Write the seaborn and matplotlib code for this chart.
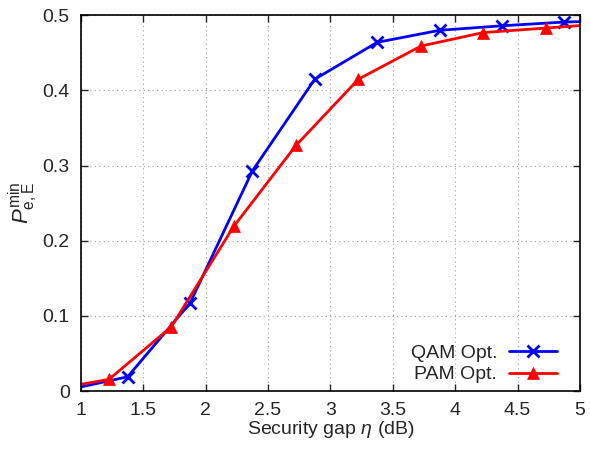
import numpy as np
import pandas as pd
import matplotlib
matplotlib.use("Agg")
import matplotlib.pyplot as plt
import seaborn as sns

sns.set_style("ticks")
plt.rcParams['font.family'] = ['Liberation Sans', 'DejaVu Sans']
plt.rcParams['mathtext.fontset'] = 'custom'
plt.rcParams['mathtext.rm'] = 'Liberation Sans'
plt.rcParams['mathtext.it'] = 'Liberation Sans:italic'

# datos (los extremos quedan fuera del eje y se recortan)
eta_qam = [0.875, 1.375, 1.875, 2.375, 2.875, 3.375, 3.875, 4.375, 4.875, 5.375]
pe_qam = [0.001, 0.019, 0.117, 0.293, 0.415, 0.464, 0.480, 0.486, 0.491, 0.493]

eta_pam = [0.725, 1.225, 1.725, 2.225, 2.725, 3.225, 3.725, 4.225, 4.725, 5.225]
pe_pam = [0.001, 0.0155, 0.0855, 0.219, 0.327, 0.415, 0.459, 0.477, 0.483, 0.489]

df_qam = pd.DataFrame({"eta": eta_qam, "pe": pe_qam})
df_pam = pd.DataFrame({"eta": eta_pam, "pe": pe_pam})

fig, ax = plt.subplots(figsize=(5.9, 4.49), dpi=100)
fig.subplots_adjust(left=0.137, right=0.983, top=0.966, bottom=0.129)

azul, rojo = "#0000ff", "#ff0000"
sns.lineplot(data=df_qam, x="eta", y="pe", ax=ax, color=azul, lw=2,
             marker="x", markersize=8, markeredgewidth=2,
             markeredgecolor=azul, label="QAM Opt.")
sns.lineplot(data=df_pam, x="eta", y="pe", ax=ax, color=rojo, lw=2,
             marker="^", markersize=9, markeredgewidth=0.5,
             markeredgecolor=rojo, label="PAM Opt.")

ax.set_xlim(1, 5)
ax.set_ylim(0, 0.5)
ax.set_xticks(np.arange(1, 5.01, 0.5))
ax.set_xticklabels(["1", "1.5", "2", "2.5", "3", "3.5", "4", "4.5", "5"])
ax.set_yticks(np.arange(0, 0.51, 0.1))
ax.set_yticklabels(["0", "0.1", "0.2", "0.3", "0.4", "0.5"])
ax.grid(True, linestyle=(0, (1, 3)), color="#a0a0a0", lw=0.8)
ax.tick_params(direction="in", top=True, right=True, labelsize=14, length=5,
               width=1, pad=8)
for s in ax.spines.values():
    s.set_linewidth(1.2)
    s.set_color("black")

ax.set_xlabel(r"Security gap $\eta$ (dB)", fontsize=14, labelpad=0)
ax.set_ylabel(r"$P_{\mathrm{e,E}}^{\mathrm{min}}$", fontsize=16, labelpad=2)

ax.legend(loc="lower right", bbox_to_anchor=(0.982, -0.016), frameon=False,
          markerfirst=False, fontsize=14, handlelength=2.5, labelspacing=0.2,
          borderaxespad=0.3, handletextpad=0.6)

plt.savefig("out.png", dpi=100)
